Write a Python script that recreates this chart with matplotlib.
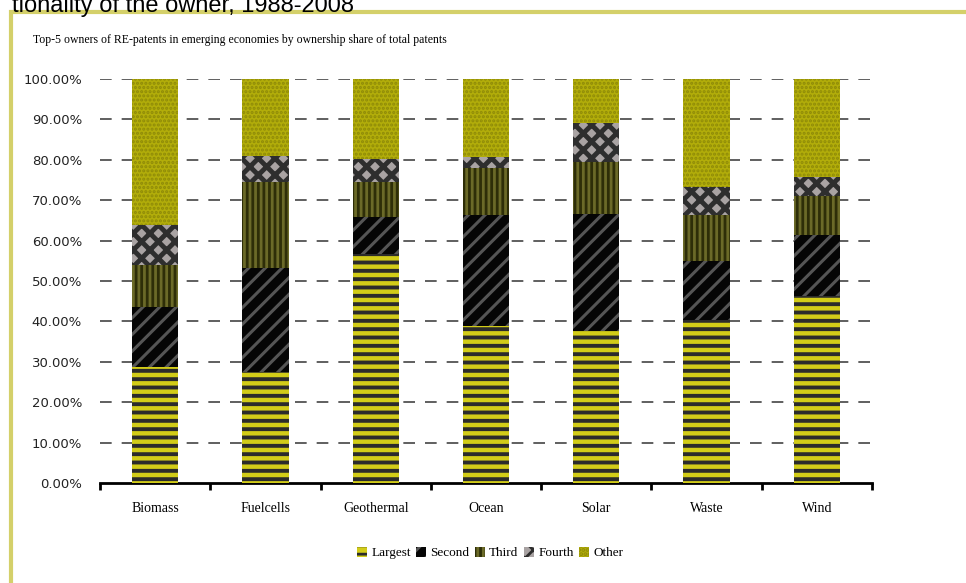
import numpy as np
import matplotlib
matplotlib.use('Agg')
import matplotlib.pyplot as plt
from matplotlib.patches import Rectangle

# Data: ownership share (%) of each owner rank per technology
categories = ['Biomass', 'Fuelcells', 'Geothermal', 'Ocean', 'Solar', 'Waste', 'Wind']
largest = [28.7, 27.5, 56.7, 38.9, 37.6, 40.3, 46.3]
second = [14.9, 25.7, 9.1, 27.4, 29.0, 14.7, 15.0]
third = [10.4, 21.3, 8.7, 11.7, 12.9, 11.3, 9.7]
fourth = [9.9, 6.5, 5.7, 2.7, 9.6, 7.0, 4.7]
other = [36.1, 19.0, 19.8, 19.3, 10.9, 26.7, 24.3]
series_names = ['Largest', 'Second', 'Third', 'Fourth', 'Other']
yticks = [0, 10, 20, 30, 40, 50, 60, 70, 80, 90, 100]

serif = {'family': 'Liberation Serif'}

fig = plt.figure(figsize=(9.66, 5.83), dpi=100)
ax = fig.add_axes([100/966, 1-483/583, 772/966, 404/583])

# fill colour, hatch pattern, hatch colour, hatch width
styles = [
    ('#d2cc18', '--', '#2b2b2b', 2.8),
    ('#050505', '//', '#555555', 2.2),
    ('#6b6a28', '|||', '#2e2e08', 2.0),
    ('#a9a3a3', 'xx', '#2e2e2e', 3.5),
    ('#b2ad0a', '....', '#8e8a08', 1.5),
]

x = np.arange(len(categories))
series = [largest, second, third, fourth, other]
bottom = np.zeros(len(categories))
for name, vals, (fc, h, hc, hw) in zip(series_names, series, styles):
    vals = np.array(vals)
    plt.rcParams['hatch.linewidth'] = hw
    bars = ax.bar(x, vals, 0.42, bottom=bottom, color=fc, hatch=h, edgecolor=hc,
                  linewidth=0, label=name, zorder=3)
    for b in bars:
        if hasattr(b, 'set_hatch_linewidth'):
            b.set_hatch_linewidth(hw)
    bottom = bottom + vals
plt.rcParams['hatch.linewidth'] = 2.0

ax.set_xlim(-0.5, len(categories) - 0.5)
ax.set_ylim(0, 100)
ax.set_yticks(yticks)
ax.set_yticklabels(['%d.00%%' % v for v in yticks], fontsize=9.5, color='#222222')
ax.tick_params(axis='y', length=0, pad=13)

# category boundaries as ticks
ax.set_xticks(np.arange(len(categories) + 1) - 0.5)
ax.set_xticklabels([])
ax.set_xticks(x, minor=True)
ax.set_xticklabels(categories, minor=True, fontsize=10, **serif)
ax.tick_params(axis='x', which='major', length=5, width=2, direction='out')
ax.tick_params(axis='x', which='minor', length=0, pad=14)

for s in ['top', 'right', 'left']:
    ax.spines[s].set_visible(False)
ax.spines['bottom'].set_linewidth(2)

for v in yticks[1:]:
    ax.axhline(v, color='#444444', linewidth=1.2, dashes=(7, 6), zorder=1)

leg = fig.legend(loc='center', bbox_to_anchor=(490/966, 1-553/583), ncol=5,
                 frameon=False, prop={'family': 'Liberation Serif', 'size': 9.5},
                 handlelength=0.8, handleheight=0.8, handletextpad=0.3,
                 columnspacing=0.4)

fig.text(33/966, 1-40/583,
         'Top-5 owners of RE-patents in emerging economies by ownership share of total patents',
         fontsize=8.5, va='center', ha='left', **serif)

# cut-off heading and frame of the slide
fig.text(12/966, 1-6/583, 'tionality of the owner, 1988-2008', fontsize=17,
         va='center', ha='left', family='Liberation Sans')
fig.add_artist(Rectangle((11/966, -0.1), 1.2, 1 - 12/583 + 0.1, transform=fig.transFigure,
                         fill=False, edgecolor='#d4d06a', linewidth=3))

fig.savefig('out.png', dpi=100)
